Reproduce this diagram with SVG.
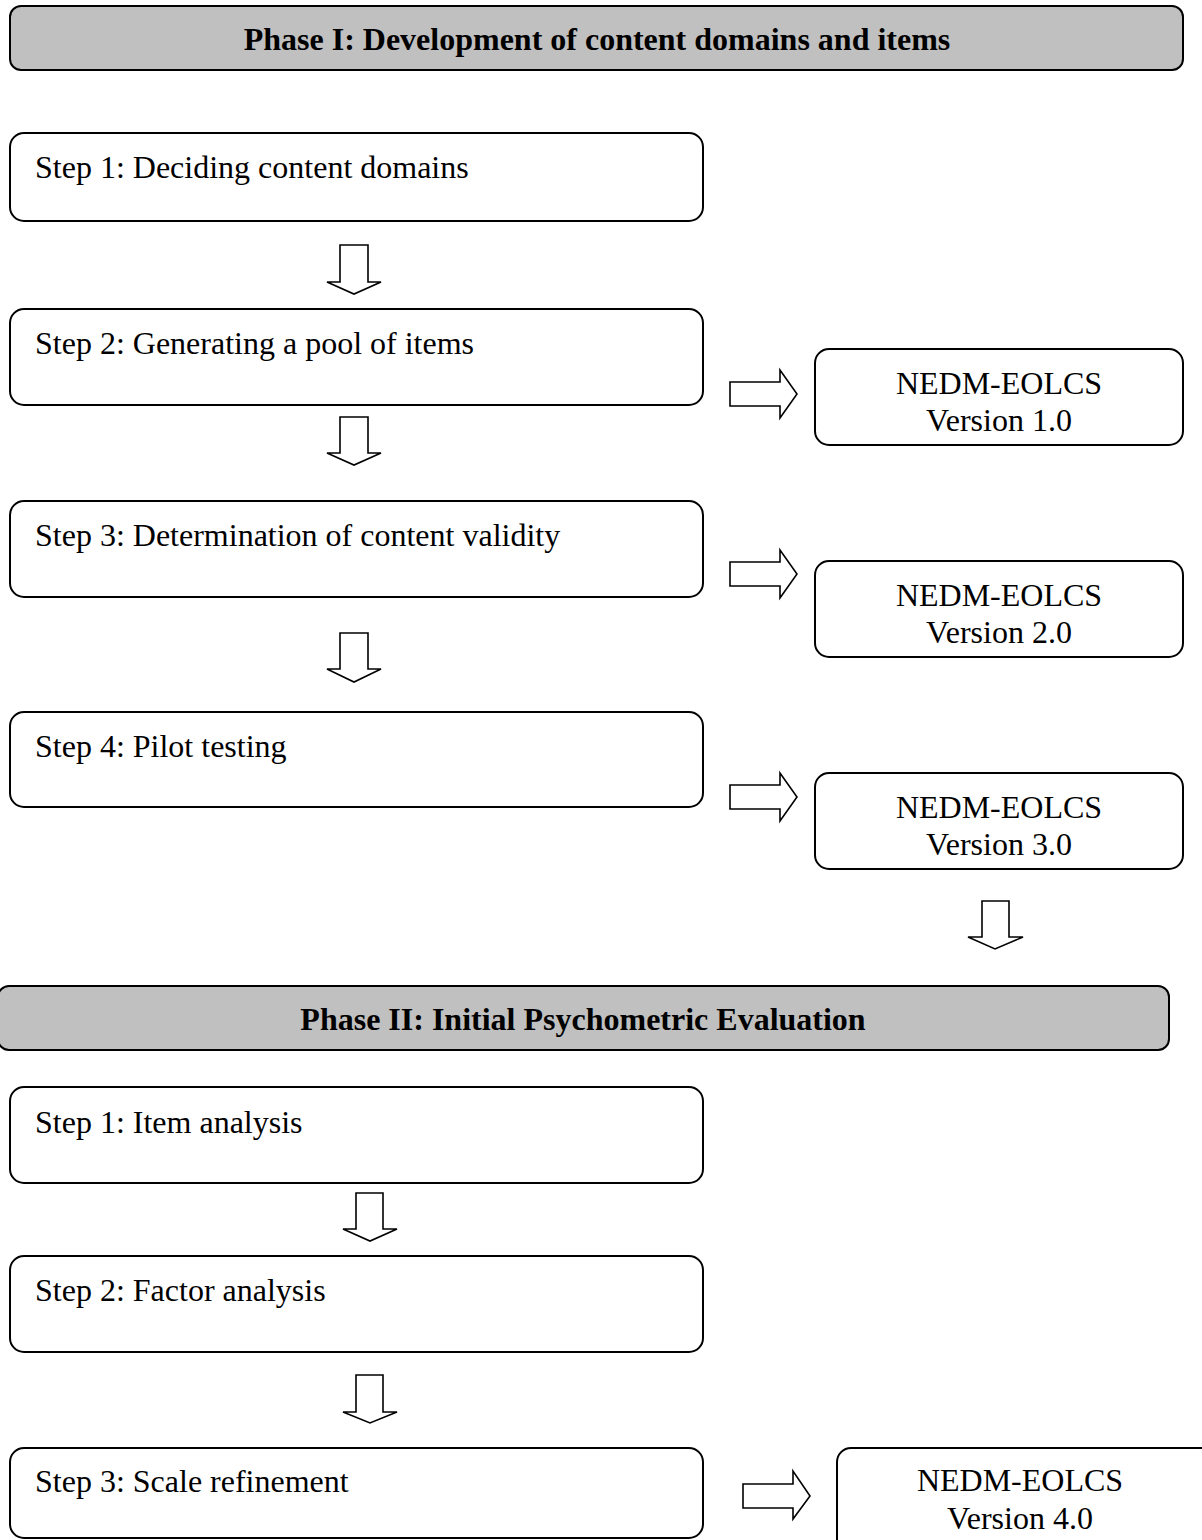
<svg xmlns="http://www.w3.org/2000/svg" width="1202" height="1540" viewBox="0 0 1202 1540">
<style>
.hdr{fill:#c0c0c0;stroke:#000;stroke-width:2}
.box{fill:#fff;stroke:#000;stroke-width:2}
.arr{fill:#fff;stroke:#000;stroke-width:1.6;stroke-linejoin:miter}
.ht{font-family:"Liberation Serif",serif;font-size:32px;font-weight:bold;text-anchor:middle;fill:#000}
.st{font-family:"Liberation Serif",serif;font-size:32px;fill:#000}
.vt{font-family:"Liberation Serif",serif;font-size:32px;text-anchor:middle;fill:#000}
</style>
<rect width="1202" height="1540" fill="#fff"/>
<g id="connectors">
<polygon class="arr" points="340,245 368,245 368,282 381,282 354,294 327,282 340,282"/>
<polygon class="arr" points="340,417 368,417 368,453 381,453 354,465 327,453 340,453"/>
<polygon class="arr" points="340,633 368,633 368,669 381,669 354,682 327,669 340,669"/>
<polygon class="arr" points="982,901 1009,901 1009,937 1023,937 995,949 968,937 982,937"/>
<polygon class="arr" points="356,1193 383,1193 383,1229 397,1229 370,1241 343,1229 356,1229"/>
<polygon class="arr" points="356,1375 383,1375 383,1412 397,1412 370,1423 343,1412 356,1412"/>
<polygon class="arr" points="730,382 780,382 780,370 797,394 780,418 780,406 730,406"/>
<polygon class="arr" points="730,562 780,562 780,550 797,574 780,598 780,586 730,586"/>
<polygon class="arr" points="730,785 780,785 780,773 797,797 780,821 780,809 730,809"/>
<polygon class="arr" points="743,1484 793,1484 793,1471 810,1496 793,1519 793,1508 743,1508"/>
</g>
<g id="phase1">
<rect class="hdr" x="10" y="6" width="1173" height="64" rx="11"/>
<text class="ht" x="597" y="50">Phase I: Development of content domains and items</text>
</g>
<g id="p1step1">
<rect class="box" x="10" y="133" width="693" height="88" rx="14"/>
<text class="st" x="35" y="178">Step 1: Deciding content domains</text>
</g>
<g id="p1step2">
<rect class="box" x="10" y="309" width="693" height="96" rx="14"/>
<text class="st" x="35" y="354">Step 2: Generating a pool of items</text>
</g>
<g id="p1step3">
<rect class="box" x="10" y="501" width="693" height="96" rx="14"/>
<text class="st" x="35" y="546">Step 3: Determination of content validity</text>
</g>
<g id="p1step4">
<rect class="box" x="10" y="712" width="693" height="95" rx="14"/>
<text class="st" x="35" y="757">Step 4: Pilot testing</text>
</g>
<g id="v1">
<rect class="box" x="815" y="349" width="368" height="96" rx="14"/>
<text class="vt" x="999" y="394">NEDM-EOLCS</text>
<text class="vt" x="999" y="431">Version 1.0</text>
</g>
<g id="v2">
<rect class="box" x="815" y="561" width="368" height="96" rx="14"/>
<text class="vt" x="999" y="606">NEDM-EOLCS</text>
<text class="vt" x="999" y="643">Version 2.0</text>
</g>
<g id="v3">
<rect class="box" x="815" y="773" width="368" height="96" rx="14"/>
<text class="vt" x="999" y="818">NEDM-EOLCS</text>
<text class="vt" x="999" y="855">Version 3.0</text>
</g>
<g id="phase2">
<rect class="hdr" x="-2" y="986" width="1171" height="64" rx="11"/>
<text class="ht" x="583" y="1030">Phase II: Initial Psychometric Evaluation</text>
</g>
<g id="p2step1">
<rect class="box" x="10" y="1087" width="693" height="96" rx="14"/>
<text class="st" x="35" y="1133">Step 1: Item analysis</text>
</g>
<g id="p2step2">
<rect class="box" x="10" y="1256" width="693" height="96" rx="14"/>
<text class="st" x="35" y="1301">Step 2: Factor analysis</text>
</g>
<g id="p2step3">
<rect class="box" x="10" y="1448" width="693" height="90" rx="14"/>
<text class="st" x="35" y="1492">Step 3: Scale refinement</text>
</g>
<g id="v4">
<rect class="box" x="837" y="1448" width="380" height="110" rx="14"/>
<text class="vt" x="1020" y="1491">NEDM-EOLCS</text>
<text class="vt" x="1020" y="1529">Version 4.0</text>
</g>
</svg>
